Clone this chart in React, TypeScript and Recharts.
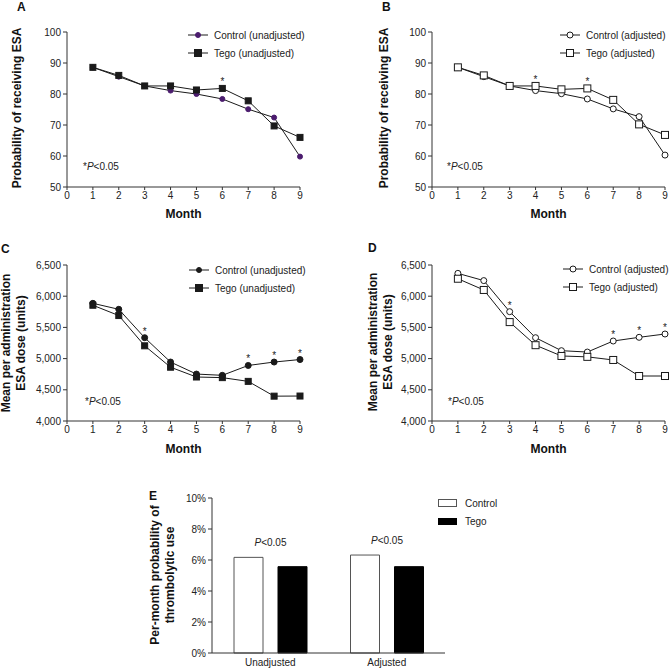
import React from 'react';
import { LineChart, Line, XAxis, YAxis, Legend, LabelList, BarChart, Bar } from 'recharts';

const FONT = '"Liberation Sans", Arial, sans-serif';
const INK = '#1a1a1a';
const AXIS = '#333333';
const PURPLE = '#4b1c6e';

// months 1..9 on an axis that starts at 0
const months = [1, 2, 3, 4, 5, 6, 7, 8, 9];
const monthTicks = [0, 1, 2, 3, 4, 5, 6, 7, 8, 9];

// A / B: probability of receiving ESA (%)
const probControlUnadj = [88.6, 85.6, 82.6, 81.1, 80.0, 78.4, 75.1, 72.4, 59.8];
const probTegoUnadj = [88.6, 86.0, 82.6, 82.6, 81.3, 81.8, 77.8, 69.7, 66.0];
const probControlAdj = [88.6, 85.6, 82.6, 81.1, 80.1, 78.4, 75.2, 72.7, 60.3];
const probTegoAdj = [88.6, 86.0, 82.6, 82.6, 81.5, 81.8, 78.1, 70.2, 66.8];
const probTicks = [50, 60, 70, 80, 90, 100];

// C / D: mean per administration ESA dose (units)
const doseControlUnadj = [5886, 5790, 5335, 4945, 4752, 4732, 4890, 4945, 4985];
const doseTegoUnadj = [5855, 5690, 5205, 4862, 4705, 4695, 4635, 4398, 4400];
const doseControlAdj = [6366, 6250, 5752, 5335, 5127, 5105, 5282, 5341, 5394];
const doseTegoAdj = [6280, 6100, 5585, 5215, 5042, 5028, 4978, 4721, 4721];
const doseTicks = [4000, 4500, 5000, 5500, 6000, 6500];

// significance markers (*P<0.05), drawn above the upper series
const sigA = ['', '', '', '', '', '*', '', '', ''];
const sigB = ['', '', '', '*', '', '*', '', '', ''];
const sigC = ['', '', '*', '', '', '', '*', '*', '*'];
const sigD = ['', '', '*', '', '', '', '*', '*', '*'];

// E: per-month probability of thrombolytic use (%)
const barGroups = ['Unadjusted', 'Adjusted'];
const barControl = [6.17, 6.32];
const barTego = [5.57, 5.57];
const barPValue = ['P<0.05', 'P<0.05'];
const pctTicks = [0, 2, 4, 6, 8, 10];

const tickStyle = { fontSize: 10, fill: '#222', fontFamily: FONT };

function buildRows(control: number[], tego: number[], sig: string[]) {
	return months.map((m, i) => ({ month: m, control: control[i], tego: tego[i], sig: sig[i] }));
}

const squareDot = (fill: string, size: number) => (props: any) => {
	const { cx, cy, index } = props;
	if (cx == null || cy == null) return <g key={`sq-${index}`} />;
	return (
		<rect
			key={`sq-${index}`}
			x={cx - size / 2}
			y={cy - size / 2}
			width={size}
			height={size}
			fill={fill}
			stroke={INK}
			strokeWidth={1}
		/>
	);
};

function LegendMarker({ shape, fill, stroke }: { shape: 'circle' | 'square'; fill: string; stroke: string }) {
	return (
		<svg width={20} height={10} style={{ display: 'block' }}>
			<line x1={0} y1={5} x2={20} y2={5} stroke={INK} strokeWidth={1} />
			{shape === 'circle' ? (
				<circle cx={10} cy={5} r={fill === '#fff' ? 3 : 2.5} fill={fill} stroke={stroke} />
			) : (
				<rect x={6.5} y={1.5} width={7} height={7} fill={fill} stroke={INK} />
			)}
		</svg>
	);
}

interface LinePanelProps {
	left: number;
	top: number;
	margin: { top: number; right: number; bottom: number; left: number };
	data: any[];
	yDomain: [number, number];
	yTicks: number[];
	yFormat?: (v: number) => string;
	controlName: string;
	tegoName: string;
	open: boolean;
	controlColor: string;
	sigOn: 'control' | 'tego';
	legendLeft: number;
	legendTop: number;
}

function LinePanel(p: LinePanelProps) {
	const markerFill = p.open ? '#fff' : p.controlColor;
	const squareFill = p.open ? '#fff' : INK;
	const circleR = p.open ? 3 : p.controlColor === INK ? 3 : 2.5;

	const renderLegend = () => (
		<div style={{ fontFamily: FONT, fontSize: 10, color: '#222' }}>
			<div style={{ display: 'flex', alignItems: 'center', height: 18 }}>
				<LegendMarker shape="circle" fill={markerFill} stroke={p.open ? INK : p.controlColor} />
				<span style={{ marginLeft: 6, whiteSpace: 'nowrap' }}>{p.controlName}</span>
			</div>
			<div style={{ display: 'flex', alignItems: 'center', height: 18 }}>
				<LegendMarker shape="square" fill={squareFill} stroke={INK} />
				<span style={{ marginLeft: 6, whiteSpace: 'nowrap' }}>{p.tegoName}</span>
			</div>
		</div>
	);

	const renderStar = (props: any) => {
		const { x, y, value, index } = props;
		if (!value) return null;
		return (
			<text key={`star-${index}`} x={x} y={y - 3} textAnchor="middle" fontSize={10} fontFamily={FONT} fill="#222">
				{value}
			</text>
		);
	};

	return (
		<div style={{ position: 'absolute', left: p.left, top: p.top }}>
			<LineChart width={335} height={230} data={p.data} margin={p.margin}>
				<XAxis
					type="number"
					dataKey="month"
					domain={[0, 9]}
					ticks={monthTicks}
					interval={0}
					height={20}
					stroke={AXIS}
					tick={tickStyle}
					tickSize={3}
					tickMargin={2}
				/>
				<YAxis
					type="number"
					domain={p.yDomain}
					ticks={p.yTicks}
					interval={0}
					width={30}
					stroke={AXIS}
					tick={tickStyle}
					tickSize={4}
					tickMargin={2}
					tickFormatter={p.yFormat}
				/>
				<Legend
					layout="horizontal"
					verticalAlign="middle"
					content={renderLegend}
					wrapperStyle={{ left: p.legendLeft, top: p.legendTop, width: 'auto' }}
				/>
				<Line
					dataKey="control"
					name={p.controlName}
					stroke={INK}
					strokeWidth={1}
					isAnimationActive={false}
					dot={{ r: circleR, fill: markerFill, stroke: p.open ? INK : p.controlColor, strokeWidth: 1 }}
					activeDot={false}
				>
					{p.sigOn === 'control' && <LabelList dataKey="sig" content={renderStar} />}
				</Line>
				<Line
					dataKey="tego"
					name={p.tegoName}
					stroke={INK}
					strokeWidth={1}
					isAnimationActive={false}
					dot={squareDot(squareFill, p.open ? 7 : 6)}
					activeDot={false}
				>
					{p.sigOn === 'tego' && <LabelList dataKey="sig" content={renderStar} />}
				</Line>
			</LineChart>
		</div>
	);
}

function BarPanel() {
	const data = barGroups.map((g, i) => ({ group: g, control: barControl[i], tego: barTego[i], p: barPValue[i] }));

	const renderLegend = () => (
		<div style={{ fontFamily: FONT, fontSize: 10, color: '#222' }}>
			<div style={{ display: 'flex', alignItems: 'center', height: 18 }}>
				<div style={{ width: 17, height: 6, border: '1px solid #555', background: '#fff' }} />
				<span style={{ marginLeft: 8 }}>Control</span>
			</div>
			<div style={{ display: 'flex', alignItems: 'center', height: 18 }}>
				<div style={{ width: 19, height: 7, background: '#000' }} />
				<span style={{ marginLeft: 8 }}>Tego</span>
			</div>
		</div>
	);

	const renderP = (props: any) => {
		const { x, y, width, value, index } = props;
		if (!value) return null;
		const [lead, rest] = [value.slice(0, 1), value.slice(1)];
		return (
			<text key={`p-${index}`} x={x + width + 7.5} y={y - 11} textAnchor="middle" fontSize={10} fontFamily={FONT} fill="#222">
				<tspan fontStyle="italic">{lead}</tspan>
				<tspan>{rest}</tspan>
			</text>
		);
	};

	return (
		<div style={{ position: 'absolute', left: 140, top: 470 }}>
			<BarChart
				width={400}
				height={202}
				data={data}
				margin={{ top: 28, right: 95, bottom: 0, left: 37 }}
				barSize={29}
				barGap={15}
			>
				<XAxis
					dataKey="group"
					height={19}
					stroke={AXIS}
					tick={tickStyle}
					tickLine={false}
					tickSize={0}
					tickMargin={6}
				/>
				<YAxis
					type="number"
					domain={[0, 10]}
					ticks={pctTicks}
					interval={0}
					width={35}
					stroke={AXIS}
					tick={tickStyle}
					tickSize={4}
					tickMargin={2}
					tickFormatter={(v: number) => `${v}%`}
				/>
				<Legend
					layout="horizontal"
					verticalAlign="middle"
					content={renderLegend}
					wrapperStyle={{ left: 298, top: 24, width: 'auto' }}
				/>
				<Bar dataKey="control" name="Control" fill="#fff" stroke="#555" strokeWidth={1} isAnimationActive={false}>
					<LabelList dataKey="p" content={renderP} />
				</Bar>
				<Bar dataKey="tego" name="Tego" fill="#000" stroke="#000" strokeWidth={1} isAnimationActive={false} />
			</BarChart>
		</div>
	);
}

function PNote({ x, y }: { x: number; y: number }) {
	return (
		<text x={x} y={y} fontSize={10} fontFamily={FONT} fill="#222">
			<tspan>*</tspan>
			<tspan fontStyle="italic">P</tspan>
			<tspan>&lt;0.05</tspan>
		</text>
	);
}

function VTitle({ x, y, lines }: { x: number[]; y: number; lines: string[] }) {
	return (
		<>
			{lines.map((l, i) => (
				<text
					key={l}
					x={x[i]}
					y={y}
					transform={`rotate(-90 ${x[i]} ${y})`}
					textAnchor="middle"
					dominantBaseline="central"
					fontSize={12}
					fontWeight="bold"
					fontFamily={FONT}
					fill="#111"
				>
					{l}
				</text>
			))}
		</>
	);
}

function Annotations() {
	const letter = { fontSize: 12, fontWeight: 'bold' as const, fontFamily: FONT, fill: '#111' };
	const month = { fontSize: 12, fontWeight: 'bold' as const, fontFamily: FONT, fill: '#111', textAnchor: 'middle' as const };
	return (
		<svg width={670} height={672} style={{ position: 'absolute', left: 0, top: 0, pointerEvents: 'none' }}>
			<text x={17} y={11} {...letter}>A</text>
			<text x={382} y={11} {...letter}>B</text>
			<text x={1} y={253} {...letter}>C</text>
			<text x={368} y={252} {...letter}>D</text>
			<text x={149} y={500} {...letter}>E</text>

			<VTitle x={[17]} y={108} lines={['Probability of receiving ESA']} />
			<VTitle x={[384]} y={108} lines={['Probability of receiving ESA']} />
			<VTitle x={[6, 21]} y={343} lines={['Mean per administration', 'ESA dose (units)']} />
			<VTitle x={[373, 388]} y={342} lines={['Mean per administration', 'ESA dose (units)']} />
			<VTitle x={[155, 170]} y={575} lines={['Per-month probability of', 'thrombolytic use']} />

			<text x={183.5} y={218} {...month}>Month</text>
			<text x={548.5} y={218} {...month}>Month</text>
			<text x={183.5} y={453} {...month}>Month</text>
			<text x={548.5} y={453} {...month}>Month</text>

			<PNote x={83} y={170} />
			<PNote x={447} y={170} />
			<PNote x={85} y={405} />
			<PNote x={448} y={405} />
		</svg>
	);
}

const fmtThousands = (v: number) => v.toLocaleString('en-US');

export default function App() {
	return (
		<div style={{ position: 'absolute', left: 0, top: 0, width: 670, height: 672, background: '#fff', overflow: 'hidden' }}>
			<LinePanel
				left={0}
				top={0}
				margin={{ top: 32, right: 35, bottom: 23, left: 37 }}
				data={buildRows(probControlUnadj, probTegoUnadj, sigA)}
				yDomain={[50, 100]}
				yTicks={probTicks}
				controlName="Control (unadjusted)"
				tegoName="Tego (unadjusted)"
				open={false}
				controlColor={PURPLE}
				sigOn="tego"
				legendLeft={188}
				legendTop={26}
			/>
			<LinePanel
				left={335}
				top={0}
				margin={{ top: 32, right: 5, bottom: 23, left: 67 }}
				data={buildRows(probControlAdj, probTegoAdj, sigB)}
				yDomain={[50, 100]}
				yTicks={probTicks}
				controlName="Control (adjusted)"
				tegoName="Tego (adjusted)"
				open={true}
				controlColor={INK}
				sigOn="tego"
				legendLeft={225}
				legendTop={26}
			/>
			<LinePanel
				left={0}
				top={230}
				margin={{ top: 35, right: 35, bottom: 19, left: 37 }}
				data={buildRows(doseControlUnadj, doseTegoUnadj, sigC)}
				yDomain={[4000, 6500]}
				yTicks={doseTicks}
				yFormat={fmtThousands}
				controlName="Control (unadjusted)"
				tegoName="Tego (unadjusted)"
				open={false}
				controlColor={INK}
				sigOn="control"
				legendLeft={189}
				legendTop={31}
			/>
			<LinePanel
				left={335}
				top={230}
				margin={{ top: 35, right: 5, bottom: 19, left: 67 }}
				data={buildRows(doseControlAdj, doseTegoAdj, sigD)}
				yDomain={[4000, 6500]}
				yTicks={doseTicks}
				yFormat={fmtThousands}
				controlName="Control (adjusted)"
				tegoName="Tego (adjusted)"
				open={true}
				controlColor={INK}
				sigOn="control"
				legendLeft={228}
				legendTop={30}
			/>
			<BarPanel />
			<Annotations />
		</div>
	);
}
